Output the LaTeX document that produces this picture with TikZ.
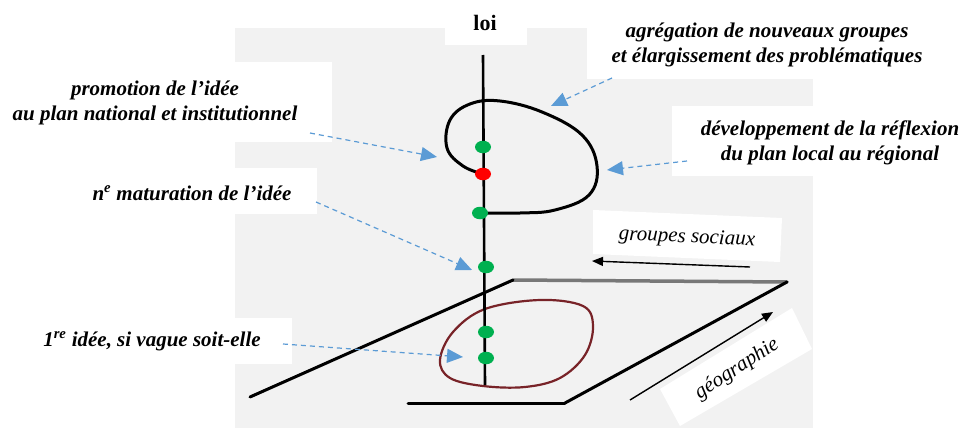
\documentclass[tikz,border=0pt]{standalone}
\usepackage{fontspec}
\setmainfont{Liberation Serif}
\usetikzlibrary{arrows.meta,shapes.geometric}
\definecolor{bggray}{RGB}{242,242,242}
\definecolor{dashblue}{RGB}{91,155,213}
\definecolor{dotgreen}{RGB}{0,176,80}
\definecolor{dotred}{RGB}{255,0,0}
\definecolor{loopred}{RGB}{120,35,40}
\definecolor{edgegray}{RGB}{120,120,120}
\begin{document}
\begin{tikzpicture}[x=1pt,y=-1pt,
  lbl/.style={font=\fontsize{21}{25}\selectfont\bfseries\itshape, align=center, inner sep=0pt},
  plainlbl/.style={font=\fontsize{21}{25}\selectfont\itshape, inner sep=0pt},
  callout/.style={dashblue, line width=1.2pt, dash pattern=on 5pt off 4pt, -{Triangle[length=16pt,width=14pt]}},
  blackarrow/.style={black, line width=1.4pt, -{Triangle[length=11pt,width=9pt]}},
  edge/.style={black, line width=3pt, line cap=round},
  gdot/.style={fill=dotgreen, draw=none, ellipse, minimum width=16pt, minimum height=12.5pt, inner sep=0pt},
  rdot/.style={fill=dotred, draw=none, ellipse, minimum width=16pt, minimum height=12.5pt, inner sep=0pt},
  whitebox/.style={fill=white, draw=none}
]
\useasboundingbox (0,0) rectangle (962,428);
% scanned background
\fill[bggray] (235,28) rectangle (813,428);
% white label boxes
\fill[whitebox] (445,0) rectangle (527,45);
\fill[whitebox] (587,0) rectangle (962,79);
\fill[whitebox] (0,62) rectangle (332,142);
\fill[whitebox] (0,168) rectangle (317,214);
\fill[whitebox] (672,106) rectangle (962,176);
\fill[whitebox] (0,318) rectangle (292,364);
\fill[whitebox] (593,210) -- (782,218) -- (780,262) -- (593,254) -- cycle;
\fill[whitebox] (660,389) -- (792,308) -- (812,349) -- (680,426) -- cycle;

% plane (parallelogram)
\draw[edgegray, line width=3.5pt, line cap=round] (513,280) -- (787,282);
\draw[edge] (250,397) -- (513,280);
\draw[edge] (787,282) -- (565,403);
\draw[edge] (408,403) -- (565,403);

% red loop in the plane
\draw[loopred, line width=2.2pt] plot[smooth cycle, tension=0.6] coordinates {
  (483,386) (450,378) (440,360) (453,332) (485,309) (540,300) (583,306) (593,326) (585,355) (560,378) (525,387)};

% axis
\draw[black, line width=2.6pt] (483,55) -- (485,385);

% black loop
\draw[black, line width=3pt, line cap=round] plot[smooth, tension=0.65] coordinates {
  (483,174) (463,166) (447,148) (450,120) (470,104) (500,101) (542,112) (582,135) (597,166) (589,195) (555,210) (520,213) (483,213)};

% dots
\node[gdot] (d1) at (483,147) {};
\node[rdot] (d2) at (483,174) {};
\node[gdot] (d3) at (480,213) {};
\node[gdot] (d4) at (486,267) {};
\node[gdot] (d5) at (486,332) {};
\node[gdot] (d6) at (486,358) {};

% labels
\node[font=\fontsize{22}{25}\selectfont\bfseries, inner sep=0pt] (loi) at (485,23) {loi};
\node[lbl] (agreg) at (767,45) {agrégation de nouveaux groupes\\et élargissement des problématiques};
\node[lbl] (promo) at (155,103) {promotion de l’idée\\au plan national et institutionnel};
\node[lbl] (devel) at (830,143) {développement de la réflexion\\du plan local au régional};
\node[lbl] (matur) at (192,193) {n\textsuperscript{e} maturation de l’idée};
\node[lbl] (premiere) at (152,341) {1\textsuperscript{re} idée, si vague soit-elle};
\node[plainlbl, rotate=-2.5] (groupes) at (687,238) {groupes sociaux};
\node[plainlbl, rotate=33] (geo) at (737,369) {géographie};

% callout targets / starts
\coordinate (tpromo) at (437,157);
\coordinate (spromo) at (310,133);
\coordinate (tagreg) at (551,106);
\coordinate (sagreg) at (612,78);
\coordinate (tdevel) at (607,170);
\coordinate (sdevel) at (687,161);
\coordinate (tmatur) at (472,270);
\coordinate (smatur) at (316,202);
\coordinate (tprem) at (463,357);
\coordinate (sprem) at (283,344);

\draw[callout] (spromo) -- (tpromo);
\draw[callout] (sagreg) -- (tagreg);
\draw[callout] (sdevel) -- (tdevel);
\draw[callout] (smatur) -- (tmatur);
\draw[callout] (sprem) -- (tprem);

% direction arrows
\coordinate (gs1) at (750,267);
\coordinate (gs2) at (592,261);
\coordinate (ge1) at (630,400);
\coordinate (ge2) at (773,312);
\draw[blackarrow] (gs1) -- (gs2);
\draw[blackarrow] (ge1) -- (ge2);
\end{tikzpicture}
\end{document}
